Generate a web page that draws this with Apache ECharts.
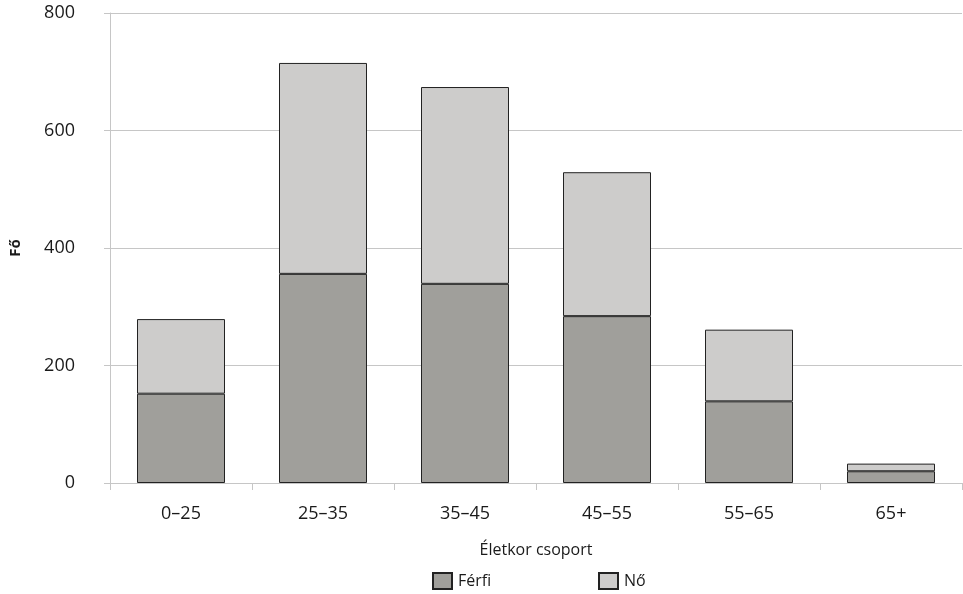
<!DOCTYPE html>
<html>
<head>
<meta charset="utf-8">
<script src="https://cdn.jsdelivr.net/npm/echarts@6/dist/echarts.min.js"></script>
<style>html,body{margin:0;padding:0;background:#fff;}#c{width:963px;height:594px;}</style>
</head>
<body>
<div id="c"></div>
<script>
var categories = ['0–25', '25–35', '35–45', '45–55', '55–65', '65+'];
var ferfi = [152, 356, 339, 284, 139, 20];
var no = [127, 359, 335, 245, 122, 13];
var yTicks = [0, 200, 400, 600, 800];
var xName = 'Életkor csoport';
var yName = 'Fő';
var seriesNames = ['Férfi', 'Nő'];

var FONT = '"Open Sans", "Noto Sans", sans-serif';
var chart = echarts.init(document.getElementById('c'), null, {renderer: 'canvas'});
var legendBase = {
  orient: 'horizontal', top: 567, itemWidth: 19, itemHeight: 16, itemGap: 10,
  textStyle: {fontFamily: FONT, fontSize: 16, color: '#1a1a1a', padding: [0, 0, 0, 1]},
  icon: 'rect'
};
chart.setOption({
  animation: false,
  textStyle: {fontFamily: FONT},
  grid: {left: 107, right: 1, top: 13, bottom: 111, containLabel: false},
  legend: [
    Object.assign({}, legendBase, {left: 427, data: [seriesNames[0]]}),
    Object.assign({}, legendBase, {left: 593, data: [seriesNames[1]]})
  ],
  xAxis: {
    type: 'category', data: categories,
    name: xName, nameLocation: 'middle', nameGap: 59,
    nameTextStyle: {fontFamily: FONT, fontSize: 16, color: '#1a1a1a'},
    axisLine: {show: true, lineStyle: {color: '#c6c6c6', width: 1}},
    axisTick: {show: true, length: 7, lineStyle: {color: '#c6c6c6'}, alignWithLabel: false},
    axisLabel: {fontFamily: FONT, fontSize: 18, color: '#1a1a1a', margin: 22}
  },
  yAxis: {
    type: 'value', min: yTicks[0], max: yTicks[yTicks.length - 1], interval: 200,
    name: yName, nameLocation: 'middle', nameGap: 87, nameRotate: 90,
    nameTextStyle: {fontFamily: FONT, fontSize: 15, fontWeight: 'bold', color: '#1a1a1a'},
    axisLine: {show: true, lineStyle: {color: '#c6c6c6', width: 1}},
    axisTick: {show: true, length: 6, lineStyle: {color: '#c6c6c6'}},
    splitLine: {show: true, lineStyle: {color: '#c6c6c6', width: 1}},
    axisLabel: {fontFamily: FONT, fontSize: 18, color: '#1a1a1a', margin: 35}
  },
  series: [
    {
      name: seriesNames[0], type: 'bar', stack: 'a', data: ferfi, barWidth: 88,
      itemStyle: {color: '#a09f9b', borderColor: '#222', borderWidth: 1}
    },
    {
      name: seriesNames[1], type: 'bar', stack: 'a', data: no, barWidth: 88,
      itemStyle: {color: '#cdcccb', borderColor: '#222', borderWidth: 1}
    }
  ]
});
</script>
</body>
</html>
